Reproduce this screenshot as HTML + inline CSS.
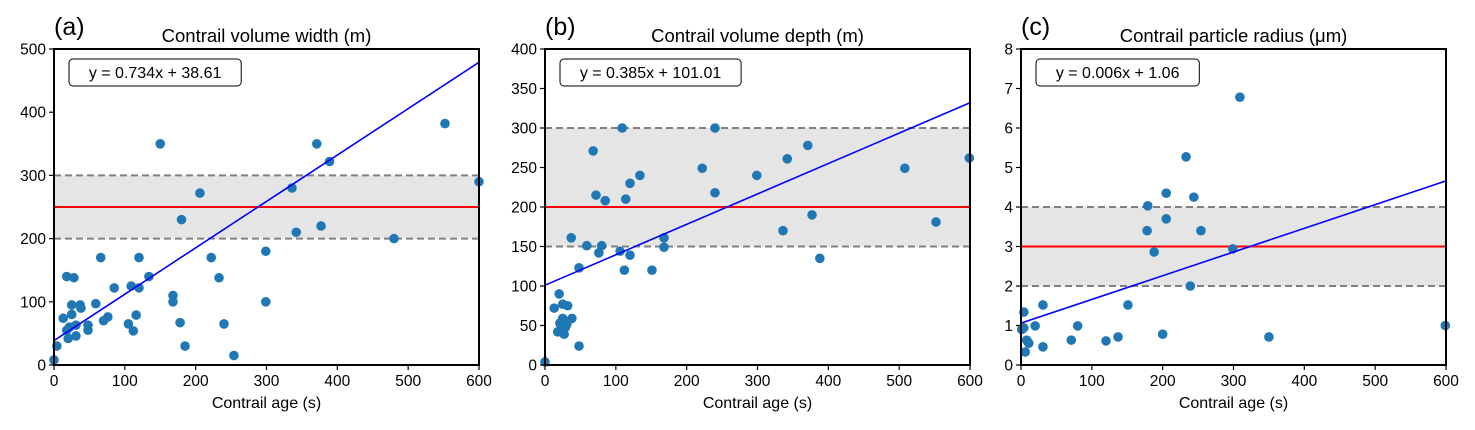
<!DOCTYPE html>
<html><head><meta charset="utf-8"><style>
body{margin:0;background:#fff;}
svg text{font-family:"Liberation Sans","DejaVu Sans",sans-serif;fill:#000;}
</style></head><body>
<svg id="fig" width="1475" height="425" xmlns="http://www.w3.org/2000/svg"></svg>
<script>
const panelLetters=["(a)","(b)","(c)"];
const panelTitles=["Contrail volume width (m)","Contrail volume depth (m)","Contrail particle radius (\u03bcm)"];
const yMaxes=[500,400,8];
const yTickLists=[[0,100,200,300,400,500],[0,50,100,150,200,250,300,350,400],[0,1,2,3,4,5,6,7,8]];
const xTicks=[0,100,200,300,400,500,600];
const bandLow=[200,150,2];
const bandMid=[250,200,3];
const bandHigh=[300,300,4];
const slopes=[0.734,0.385,0.006];
const intercepts=[38.61,101.01,1.06];
const eqLabels=["y = 0.734x + 38.61","y = 0.385x + 101.01","y = 0.006x + 1.06"];
const agesA=[0,4,13,18,28,18,20,22,25,25,31,31,37,38,48,48,59,66,70,76,85,105,109,112,116,120,120,134,150,168,168,178,180,185,206,222,233,240,254,299,299,336,342,371,377,389,480,552,600];
const valsA=[8,30,74,140,138,55,42,60,95,80,63,46,95,90,63,55,97,170,70,76,122,65,125,54,79,170,122,140,350,110,100,67,230,30,272,170,138,65,15,180,100,280,210,350,220,322,200,382,290];
const agesB=[0,20,13,25,32,38,25,21,31,18,27,48,37,48,59,68,72,76,80,85,106,109,112,114,120,120,134,151,168,168,222,240,240,299,336,342,371,377,388,508,552,599,23,29];
const valsB=[4,90,72,77,75,59,59,53,52,42,39,24,161,123,151,271,215,142,151,208,144,300,120,210,230,139,240,120,161,149,249,300,218,240,170,261,278,190,135,249,181,262,47,48];
const agesC=[4,31,4,20,80,10,6,31,71,120,137,151,200,1,8,11,179,178,188,205,205,233,239,244,254,299,309,350,599];
const valsC=[1.34,1.52,0.94,0.99,0.99,0.58,0.33,0.46,0.63,0.61,0.71,1.52,0.78,0.9,0.63,0.55,4.03,3.4,2.86,4.35,3.7,5.27,2.0,4.25,3.4,2.94,6.78,0.71,1.0];
const allAges=[agesA,agesB,agesC];
const allVals=[valsA,valsB,valsC];
const lefts=[54,545,1021];
const W=425, TOP=49, BOT=365;
const svg=document.getElementById('fig');
const NS="http://www.w3.org/2000/svg";
function mk(tag,attrs,parent){const e=document.createElementNS(NS,tag);for(const k in attrs)e.setAttribute(k,attrs[k]);(parent||svg).appendChild(e);return e;}
for(let p=0;p<3;p++){
  const L=lefts[p], ymax=yMaxes[p];
  const sx=v=>L+v/600*W;
  const sy=v=>BOT-v/ymax*(BOT-TOP);
  const g=mk('g',{});
  
  
  const band=mk('rect',{x:L,y:sy(bandHigh[p]),width:W,height:sy(bandLow[p])-sy(bandHigh[p]),fill:'#e5e5e5'},g);
  
  
  for(const v of [bandLow[p],bandHigh[p]]){
    const d=mk('line',{x1:L,x2:L+W,y1:sy(v),y2:sy(v),stroke:'#808080','stroke-width':2,'stroke-dasharray':'7,4'},g);
    
    
  }
  const r=mk('line',{x1:L,x2:L+W,y1:sy(bandMid[p]),y2:sy(bandMid[p]),stroke:'#ff0000','stroke-width':2},g);
  
  
  const ages=allAges[p], vals=allVals[p];
  for(let i=0;i<ages.length;i++){
    const c=mk('circle',{cx:sx(ages[i]),cy:sy(vals[i]),r:4.8,fill:'#1f77b4'},g);
    
    
  }
  const cp=mk('clipPath',{id:'clip'+p},g);
  mk('rect',{x:L,y:TOP,width:W,height:BOT-TOP},cp);
  const fl=mk('line',{x1:sx(0),y1:sy(intercepts[p]),x2:sx(600),y2:sy(intercepts[p]+slopes[p]*600),stroke:'#0000ff','stroke-width':1.6,'clip-path':'url(#clip'+p+')'},g);
  
  
  const fr=mk('rect',{x:L,y:TOP,width:W,height:BOT-TOP,fill:'none',stroke:'#000','stroke-width':2},g);
  
  
  for(const t of xTicks){
    mk('line',{x1:sx(t),x2:sx(t),y1:BOT,y2:BOT+5,stroke:'#000','stroke-width':1.2},g);
    const tx=mk('text',{x:sx(t),y:BOT+21,'text-anchor':'middle','font-size':15.5},g);
    tx.textContent=t;
    
    
  }
  for(const t of yTickLists[p]){
    mk('line',{x1:L-5,x2:L,y1:sy(t),y2:sy(t),stroke:'#000','stroke-width':1.2},g);
    const ty=mk('text',{x:L-8,y:sy(t)+5.5,'text-anchor':'end','font-size':15.5},g);
    ty.textContent=t;
    
    
  }
  const xl=mk('text',{x:L+W/2,y:408,'text-anchor':'middle','font-size':16},g);
  xl.textContent='Contrail age (s)';
  
  
  const ti=mk('text',{x:L+W/2,y:42,'text-anchor':'middle','font-size':18.5},g);
  ti.textContent=panelTitles[p];
  
  
  const le=mk('text',{x:L,y:35,'font-size':25},g);
  le.textContent=panelLetters[p];
  
  
  const bw=eqLabels[p].length*8.9+12;
  const bx=mk('rect',{x:L+15,y:59,width:bw,height:27,rx:4,fill:'#fff',stroke:'#000','stroke-width':1},g);
  
  
  const eq=mk('text',{x:L+15+bw/2,y:78,'text-anchor':'middle','font-size':16},g);
  eq.textContent=eqLabels[p];
  
  
}
</script>
</body></html>
